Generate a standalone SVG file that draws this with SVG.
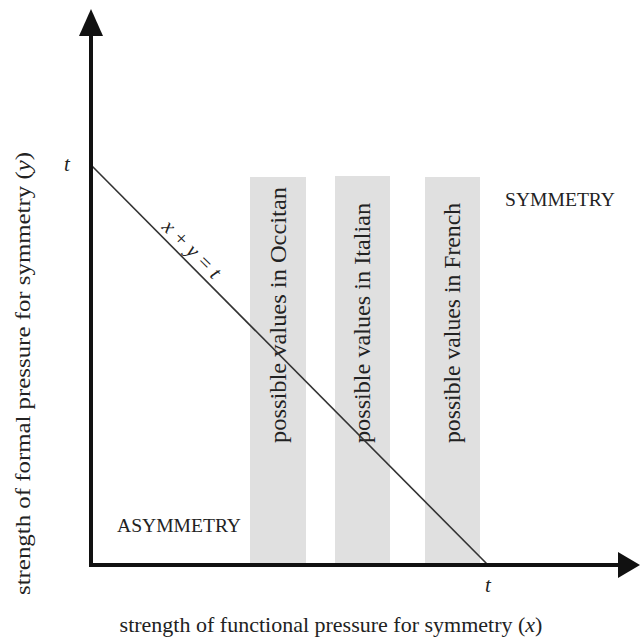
<svg xmlns="http://www.w3.org/2000/svg" width="640" height="642" viewBox="0 0 640 642">
<style>
text{font-family:"Liberation Serif","DejaVu Serif",serif;fill:#222}
.bar{fill:#e0e0e0}
.bl{font-size:23px}
.lab{font-size:22px}
.cap{font-size:19px}
.it{font-style:italic;font-size:21px}
.axis{stroke:#111;stroke-width:4;fill:none}
.head{fill:#111}
</style>
<rect width="640" height="642" fill="#fff"/>
<g id="bar-occitan">
<rect class="bar" x="250" y="177" width="56" height="388"/>
<text class="bl" transform="translate(286,443) rotate(-90)" textLength="256" lengthAdjust="spacingAndGlyphs">possible values in Occitan</text>
</g>
<g id="bar-italian">
<rect class="bar" x="335" y="176" width="55" height="389"/>
<text class="bl" transform="translate(370,443) rotate(-90)" textLength="240" lengthAdjust="spacingAndGlyphs">possible values in Italian</text>
</g>
<g id="bar-french">
<rect class="bar" x="425" y="177" width="55" height="388"/>
<text class="bl" transform="translate(460,443) rotate(-90)" textLength="240" lengthAdjust="spacingAndGlyphs">possible values in French</text>
</g>
<g id="connectors">
<line x1="91" y1="165" x2="488" y2="565" stroke="#333" stroke-width="1.6"/>
<path class="axis" d="M91,567 V34"/>
<polygon class="head" points="91,9 79,36 103,36"/>
<path class="axis" d="M89,565 H620"/>
<polygon class="head" points="640,565 618,552 618,578"/>
</g>
<g id="line-label">
<text class="it" text-anchor="middle" transform="translate(187,254) rotate(45)">x + y = t</text>
</g>
<g id="labels">
<text class="it" x="67" y="171" text-anchor="middle">t</text>
<text class="it" x="488" y="592" text-anchor="middle">t</text>
<text class="cap" x="505" y="206" textLength="110" lengthAdjust="spacingAndGlyphs">SYMMETRY</text>
<text class="cap" x="117" y="532" textLength="124" lengthAdjust="spacingAndGlyphs">ASYMMETRY</text>
<text class="lab" x="331" y="632" text-anchor="middle">strength of functional pressure for symmetry (<tspan font-style="italic">x</tspan>)</text>
<text class="lab" transform="translate(30,595) rotate(-90)" textLength="443" lengthAdjust="spacingAndGlyphs">strength of formal pressure for symmetry (<tspan font-style="italic">y</tspan>)</text>
</g>
</svg>
